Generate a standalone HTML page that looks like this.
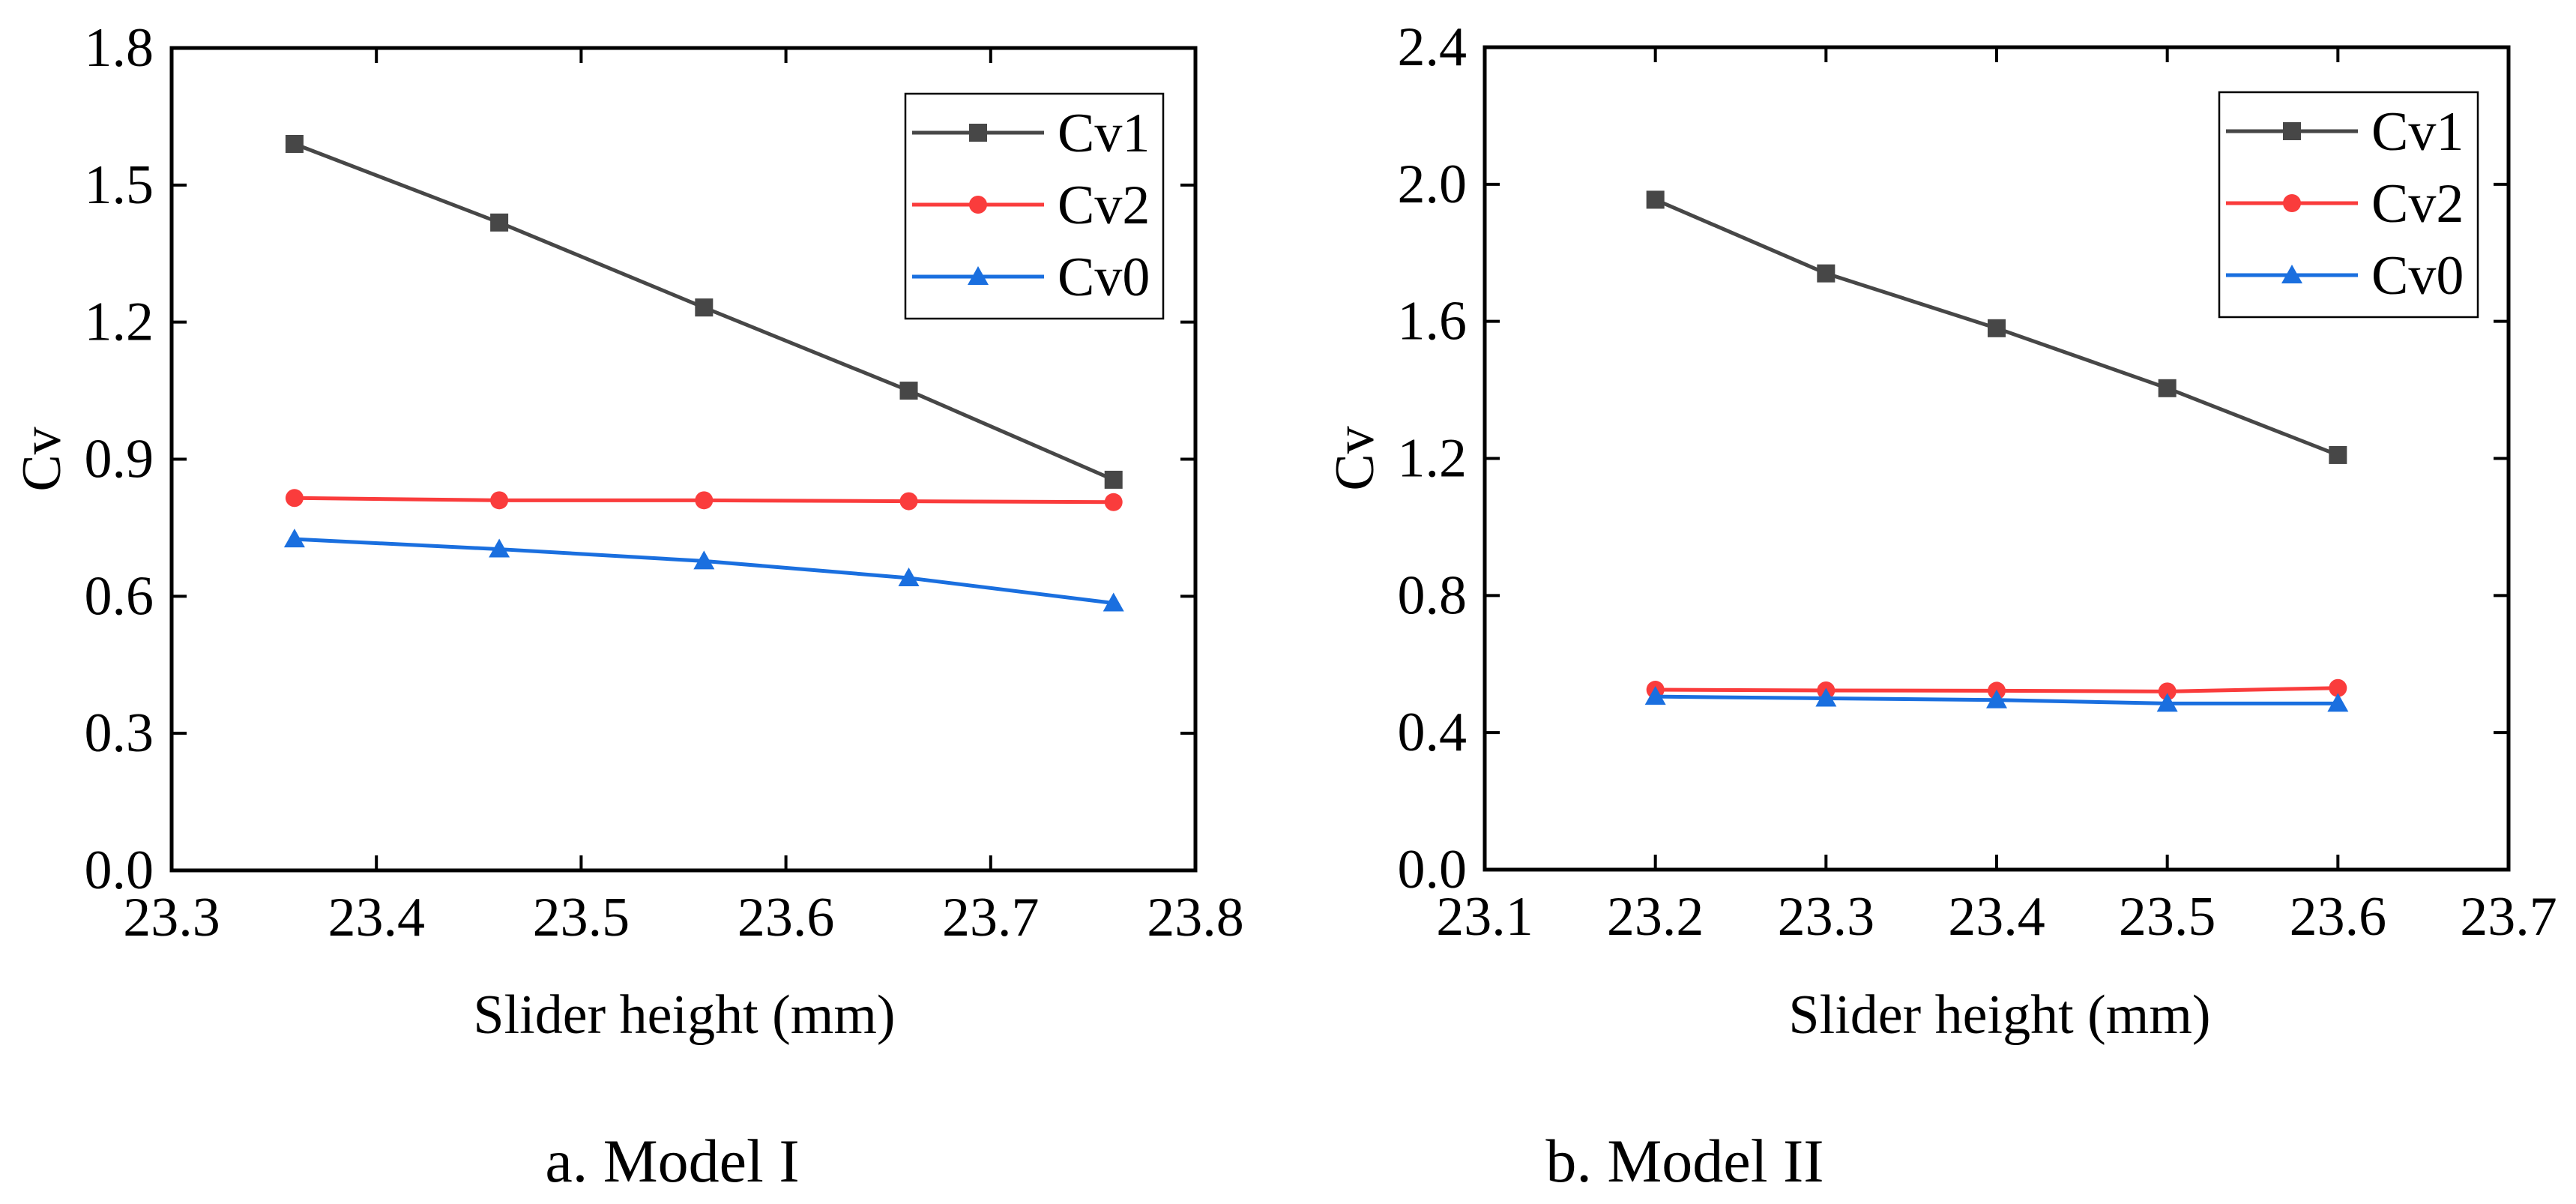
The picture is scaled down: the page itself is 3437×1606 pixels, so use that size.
<!DOCTYPE html>
<html><head><meta charset="utf-8"><style>
html,body{margin:0;padding:0;background:#fff;}
svg{display:block;font-family:"Liberation Serif",serif;}
</style></head><body>
<svg id="chart" width="3437" height="1606" viewBox="0 0 3437 1606" xmlns="http://www.w3.org/2000/svg"></svg>
<script>
const xValuesA = [23.36, 23.46, 23.56, 23.66, 23.76];
const cv1A = [1.59, 1.418, 1.232, 1.05, 0.855];
const cv2A = [0.815, 0.81, 0.81, 0.808, 0.806];
const cv0A = [0.725, 0.703, 0.677, 0.64, 0.585];
const xTicksA = ["23.3","23.4","23.5","23.6","23.7","23.8"];
const yTicksA = ["0.0","0.3","0.6","0.9","1.2","1.5","1.8"];

const xValuesB = [23.2, 23.3, 23.4, 23.5, 23.6];
const cv1B = [1.955, 1.74, 1.58, 1.405, 1.21];
const cv2B = [0.525, 0.523, 0.522, 0.52, 0.53];
const cv0B = [0.505, 0.5, 0.495, 0.485, 0.485];
const xTicksB = ["23.1","23.2","23.3","23.4","23.5","23.6","23.7"];
const yTicksB = ["0.0","0.4","0.8","1.2","1.6","2.0","2.4"];

const seriesNames = ["Cv1","Cv2","Cv0"];
const NS = "http://www.w3.org/2000/svg";
const svg = document.getElementById('chart');
const colors = ["#474747","#fa3c3c","#1a6fdf"];
const markers = ["square","circle","triangle"];

function mk(tag, attrs, parent){
  const e = document.createElementNS(NS, tag);
  for (const k in attrs) e.setAttribute(k, attrs[k]);
  (parent||svg).appendChild(e);
  return e;
}
function marker(g, type, x, y, c){
  let m;
  if (type==="square") m = mk('rect',{x:x-12,y:y-12,width:24,height:24,fill:c},g);
  else if (type==="circle") m = mk('circle',{cx:x,cy:y,r:12,fill:c},g);
  else m = mk('polygon',{points:`${x},${y-14} ${x+14},${y+11} ${x-14},${y+11}`,fill:c},g);
  return m;
}

function panel(id, L, R, T, B, xTicks, yTicks, xs, series, legend, titleX, ylabX, caption, capX){
  const x0 = parseFloat(xTicks[0]), x1 = parseFloat(xTicks[xTicks.length-1]);
  const y0 = parseFloat(yTicks[0]), y1 = parseFloat(yTicks[yTicks.length-1]);
  const sx = v => L + (v-x0)/(x1-x0)*(R-L);
  const sy = v => B - (v-y0)/(y1-y0)*(B-T);
  const g = mk('g',{});
  
  
  // series
  series.forEach((vals, si) => {
    const sg = mk('g',{}, g);
    
    
    const pts = vals.map((v,i)=>sx(xs[i])+','+sy(v)).join(' ');
    const pl = mk('polyline',{points:pts,fill:'none',stroke:colors[si],'stroke-width':5}, sg);
    
    
    vals.forEach((v,i)=>{
      const m = marker(sg, markers[si], sx(xs[i]), sy(v), colors[si]);
      
      
    });
  });
  // frame
  const fr = mk('rect',{x:L,y:T,width:R-L,height:B-T,fill:'none',stroke:'#000','stroke-width':5}, g);
  
  
  // x ticks
  xTicks.forEach(t=>{
    const x = sx(parseFloat(t));
    mk('line',{x1:x,y1:B,x2:x,y2:B-20,stroke:'#000','stroke-width':4},g);
    mk('line',{x1:x,y1:T,x2:x,y2:T+20,stroke:'#000','stroke-width':4},g);
    const tx = mk('text',{x:x,y:B+87,'font-size':74,'text-anchor':'middle'},g);
    tx.textContent = t;
    
    
  });
  yTicks.forEach(t=>{
    const y = sy(parseFloat(t));
    mk('line',{x1:L,y1:y,x2:L+20,y2:y,stroke:'#000','stroke-width':4},g);
    mk('line',{x1:R,y1:y,x2:R-20,y2:y,stroke:'#000','stroke-width':4},g);
    const tx = mk('text',{x:L-24,y:y+24,'font-size':74,'text-anchor':'end'},g);
    tx.textContent = t;
    
    
  });
  // axis titles
  const xt = mk('text',{x:titleX,y:1378,'font-size':74,'text-anchor':'middle'},g);
  xt.textContent = 'Slider height (mm)';
  
  
  const yt = mk('text',{x:0,y:0,'font-size':74,'text-anchor':'middle',transform:`translate(${ylabX},${(T+B)/2}) rotate(-90)`},g);
  yt.textContent = 'Cv';
  
  
  // legend
  const lg = mk('g',{},g);
  
  
  mk('rect',{x:legend.x,y:legend.y,width:legend.w,height:legend.h,fill:'#fff',stroke:'#000','stroke-width':2.5},lg);
  seriesNames.forEach((n,i)=>{
    const y = legend.y + 52 + i*96;
    const e = mk('g',{},lg);
    
    
    mk('line',{x1:legend.x+9,y1:y,x2:legend.x+185,y2:y,stroke:colors[i],'stroke-width':5},e);
    marker(e, markers[i], legend.x+97, y, colors[i]);
    const tt = mk('text',{x:legend.x+203,y:y+25,'font-size':74},e);
    tt.textContent = n;
  });
  const cp = mk('text',{x:capX,y:1576,'font-size':82,'text-anchor':'middle'},g);
  cp.textContent = caption;
  
  
}

panel('model-1', 229, 1595, 64, 1161, xTicksA, yTicksA, xValuesA, [cv1A,cv2A,cv0A],
  {x:1208,y:125,w:344,h:300}, 913, 80, 'a. Model I', 897);
panel('model-2', 1981, 3347, 63, 1160, xTicksB, yTicksB, xValuesB, [cv1B,cv2B,cv0B],
  {x:2961,y:123,w:345,h:300}, 2668, 1832, 'b. Model II', 2248);
</script>
</body></html>
